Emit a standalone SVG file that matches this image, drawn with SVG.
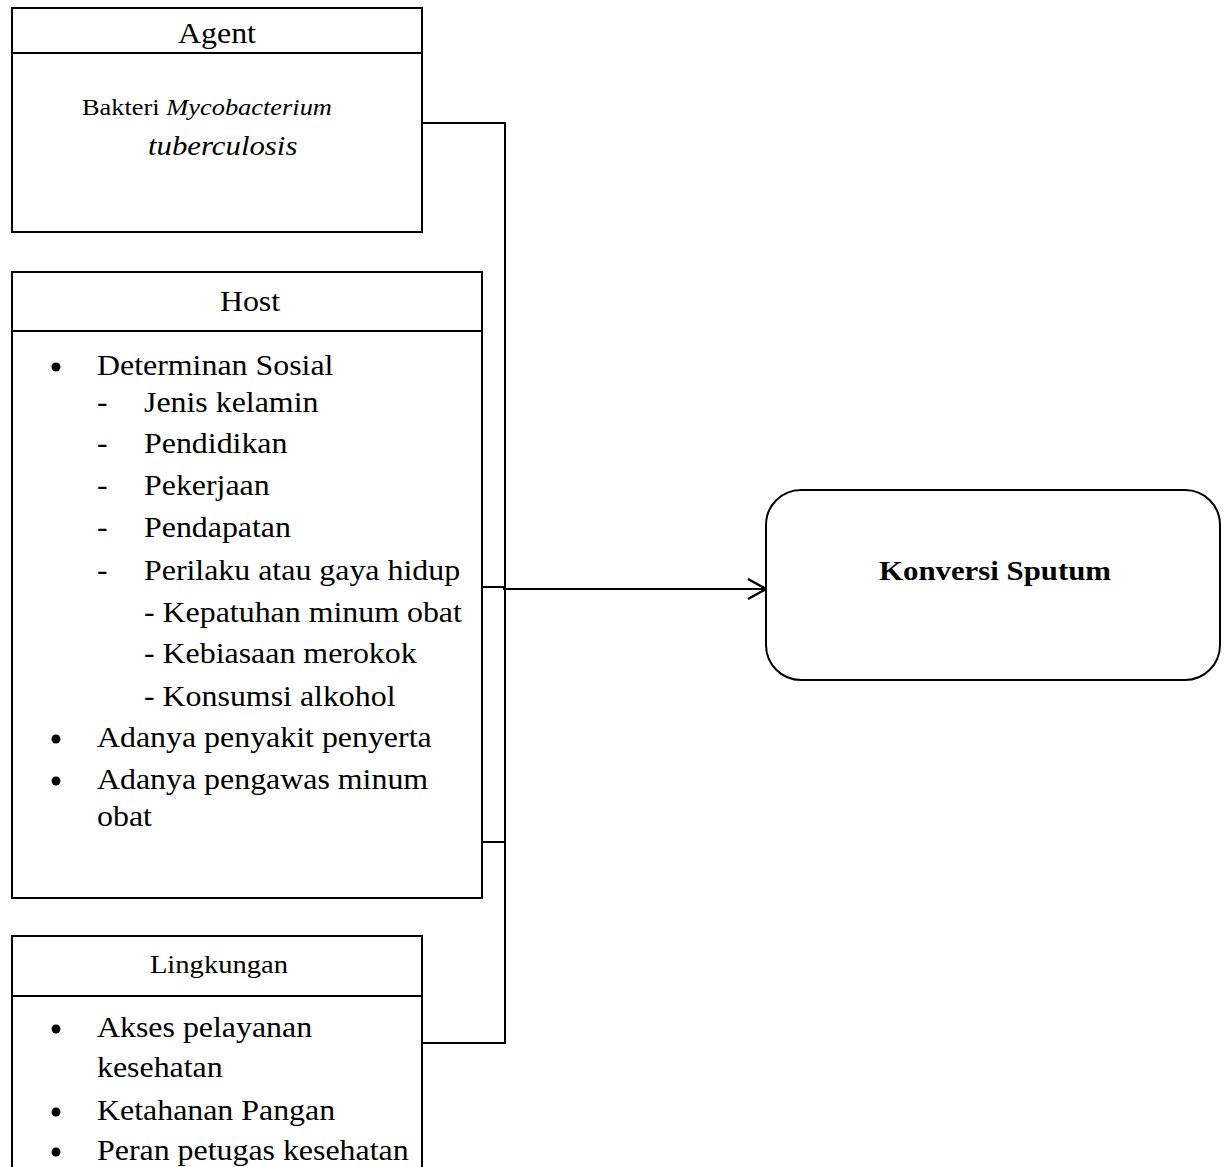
<svg xmlns="http://www.w3.org/2000/svg" width="1228" height="1167" viewBox="0 0 1228 1167">
<style>
.box{fill:#fff;stroke:#000;stroke-width:2}
.div{stroke:#000;stroke-width:2}
.t{font-family:"Liberation Serif","Times New Roman",serif;fill:#000;font-size:29px}
.h{font-size:29px;text-anchor:middle}
.s{font-size:24px}
.l{font-size:26px;text-anchor:middle}
.b{font-weight:bold;font-size:28px;text-anchor:middle}
.i{font-style:italic}
.conn{fill:none;stroke:#000;stroke-width:2}
.bul{fill:#000}
</style>
<defs>
<marker id="arr" markerUnits="userSpaceOnUse" viewBox="0 0 22 24" refX="20" refY="12" markerWidth="22" markerHeight="24" orient="auto">
<path d="M2,2 L20,12 L2,22" fill="none" stroke="#000" stroke-width="2.5"/>
</marker>
</defs>
<rect width="1228" height="1167" fill="#fff"/>

<g id="connectors">
<path class="conn" d="M422,123 H505 V1043 H422"/>
<path class="conn" d="M482,587 H505"/>
<path class="conn" d="M482,842 H505"/>
<path class="conn" d="M503,589 H766" marker-end="url(#arr)"/>
</g>

<g id="agent">
<rect class="box" x="12" y="8" width="410" height="224"/>
<line class="div" x1="12" y1="53" x2="422" y2="53"/>
<text class="t h" transform="translate(217,43) scale(1.1,1)">Agent</text>
<text class="t s" transform="translate(82,115) scale(1.1,1)">Bakteri <tspan class="i">Mycobacterium</tspan></text>
<text class="t i" style="font-size:28px" transform="translate(148,155) scale(1.1,1)">tuberculosis</text>
</g>

<g id="host">
<rect class="box" x="12" y="272" width="470" height="626"/>
<line class="div" x1="12" y1="331" x2="482" y2="331"/>
<text class="t h" transform="translate(250,311) scale(1.1,1)">Host</text>
<circle class="bul" cx="56" cy="367" r="4.5"/>
<text class="t" transform="translate(97,375) scale(1.1,1)">Determinan Sosial</text>
<text class="t" transform="translate(97,412) scale(1.1,1)">-</text>
<text class="t" transform="translate(144,412) scale(1.1,1)">Jenis kelamin</text>
<text class="t" transform="translate(97,453) scale(1.1,1)">-</text>
<text class="t" transform="translate(144,453) scale(1.1,1)">Pendidikan</text>
<text class="t" transform="translate(97,495) scale(1.1,1)">-</text>
<text class="t" transform="translate(144,495) scale(1.1,1)">Pekerjaan</text>
<text class="t" transform="translate(97,537) scale(1.1,1)">-</text>
<text class="t" transform="translate(144,537) scale(1.1,1)">Pendapatan</text>
<text class="t" transform="translate(97,580) scale(1.1,1)">-</text>
<text class="t" transform="translate(144,580) scale(1.1,1)">Perilaku atau gaya hidup</text>
<text class="t" transform="translate(144,622) scale(1.1,1)">- Kepatuhan minum obat</text>
<text class="t" transform="translate(144,663) scale(1.1,1)">- Kebiasaan merokok</text>
<text class="t" transform="translate(144,706) scale(1.1,1)">- Konsumsi alkohol</text>
<circle class="bul" cx="56" cy="739" r="4.5"/>
<text class="t" transform="translate(97,747) scale(1.1,1)">Adanya penyakit penyerta</text>
<circle class="bul" cx="56" cy="781" r="4.5"/>
<text class="t" transform="translate(97,789) scale(1.1,1)">Adanya pengawas minum</text>
<text class="t" transform="translate(97,826) scale(1.1,1)">obat</text>
</g>

<g id="lingkungan">
<rect class="box" x="12" y="936" width="410" height="260"/>
<line class="div" x1="12" y1="996" x2="422" y2="996"/>
<text class="t l" transform="translate(219,973) scale(1.1,1)">Lingkungan</text>
<circle class="bul" cx="56" cy="1029" r="4.5"/>
<text class="t" transform="translate(97,1037) scale(1.1,1)">Akses pelayanan</text>
<text class="t" transform="translate(97,1077) scale(1.1,1)">kesehatan</text>
<circle class="bul" cx="56" cy="1112" r="4.5"/>
<text class="t" transform="translate(97,1120) scale(1.1,1)">Ketahanan Pangan</text>
<circle class="bul" cx="56" cy="1152" r="4.5"/>
<text class="t" transform="translate(97,1160) scale(1.1,1)">Peran petugas kesehatan</text>
</g>

<g id="konversi">
<rect class="box" x="766" y="490" width="454" height="190" rx="35" ry="35"/>
<text class="t b" transform="translate(995,580) scale(1.1,1)">Konversi Sputum</text>
</g>
</svg>
